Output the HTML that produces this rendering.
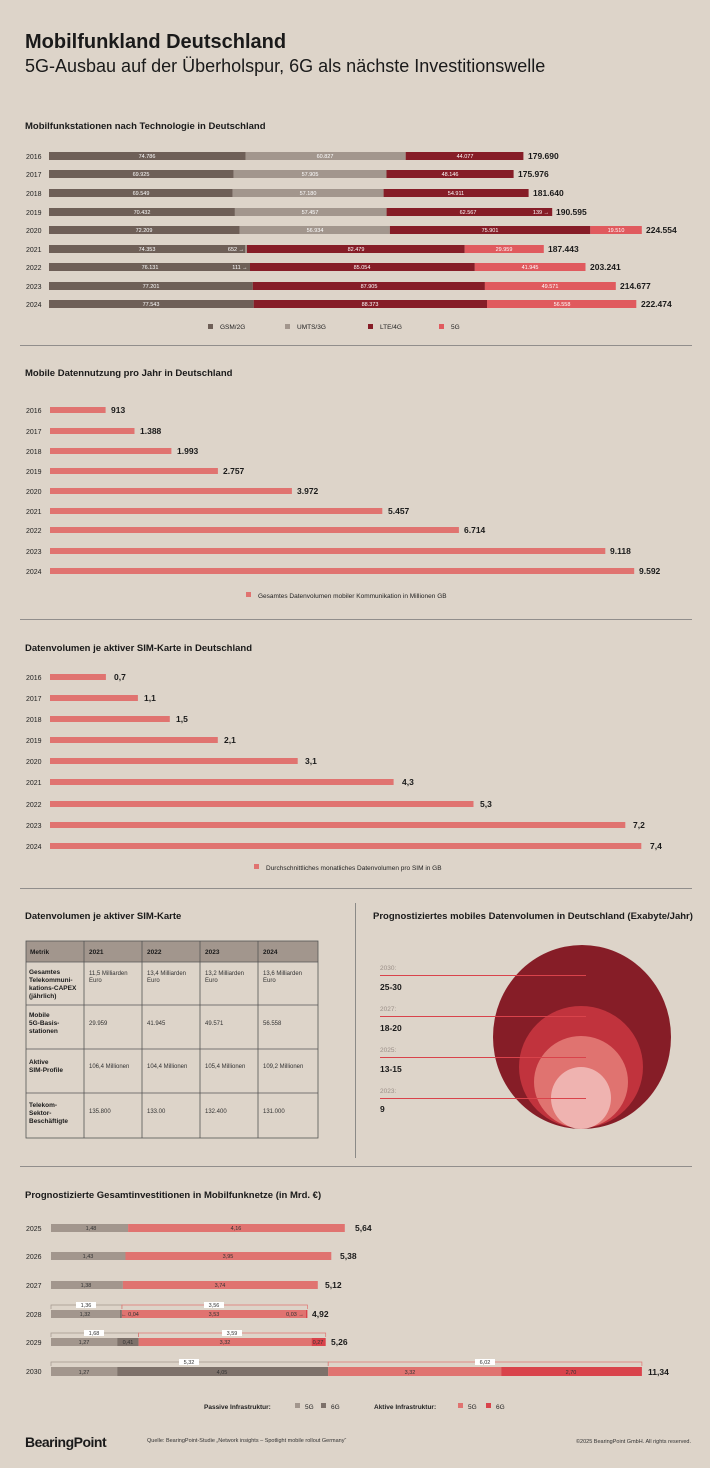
<!DOCTYPE html>
<html><head><meta charset="utf-8"><style>
html,body{margin:0;padding:0;background:#ddd4c9;}
svg{display:block;font-family:"Liberation Sans",sans-serif;}
.t{font-size:9.5px;font-weight:bold;fill:#1a1a1a}
.y{font-size:7px;fill:#222}
.w{font-size:5.5px;fill:#fff}
.d{font-size:5.5px;fill:#333}
.v{font-size:8.5px;font-weight:bold;fill:#1a1a1a}
.l{font-size:6.5px;fill:#222}
</style></head><body>
<svg width="710" height="1468" viewBox="0 0 710 1468">
<rect width="710" height="1468" fill="#ddd4c9"/>
<text x="25" y="48" font-size="20" font-weight="bold" fill="#1a1a1a">Mobilfunkland Deutschland</text>
<text x="25" y="72" font-size="18" fill="#1a1a1a">5G-Ausbau auf der Überholspur, 6G als nächste Investitionswelle</text>

<text x="25" y="129" class="t">Mobilfunkstationen nach Technologie in Deutschland</text>
<g>
<!-- rows -->
<g class="y"><text x="26" y="159">2016</text><text x="26" y="177">2017</text><text x="26" y="196">2018</text><text x="26" y="215">2019</text><text x="26" y="233">2020</text><text x="26" y="252">2021</text><text x="26" y="270">2022</text><text x="26" y="289">2023</text><text x="26" y="307">2024</text></g>
<g>
<rect x="49" y="152" width="196.7" height="8" fill="#6e5f57"/><rect x="245.7" y="152" width="160" height="8" fill="#a2968d"/><rect x="405.7" y="152" width="117.7" height="8" fill="#861d27"/>
<rect x="49" y="170" width="184.6" height="8" fill="#6e5f57"/><rect x="233.6" y="170" width="152.9" height="8" fill="#a2968d"/><rect x="386.5" y="170" width="127.1" height="8" fill="#861d27"/>
<rect x="49" y="189" width="183.6" height="8" fill="#6e5f57"/><rect x="232.6" y="189" width="151" height="8" fill="#a2968d"/><rect x="383.6" y="189" width="145" height="8" fill="#861d27"/>
<rect x="49" y="208" width="185.9" height="8" fill="#6e5f57"/><rect x="234.9" y="208" width="151.7" height="8" fill="#a2968d"/><rect x="386.6" y="208" width="165.6" height="8" fill="#861d27"/>
<rect x="49" y="226" width="190.6" height="8" fill="#6e5f57"/><rect x="239.6" y="226" width="150.3" height="8" fill="#a2968d"/><rect x="389.9" y="226" width="200.4" height="8" fill="#861d27"/><rect x="590.3" y="226" width="51.5" height="8" fill="#e05a5e"/>
<rect x="49" y="245" width="196.3" height="8" fill="#6e5f57"/><rect x="245.3" y="245" width="1.7" height="8" fill="#a2968d"/><rect x="247" y="245" width="217.7" height="8" fill="#861d27"/><rect x="464.7" y="245" width="79.1" height="8" fill="#e05a5e"/>
<rect x="49" y="263" width="201" height="8" fill="#6e5f57"/><rect x="250" y="263" width="224.8" height="8" fill="#861d27"/><rect x="474.8" y="263" width="110.7" height="8" fill="#e05a5e"/>
<rect x="49" y="282" width="203.8" height="8" fill="#6e5f57"/><rect x="252.8" y="282" width="232.1" height="8" fill="#861d27"/><rect x="484.9" y="282" width="130.9" height="8" fill="#e05a5e"/>
<rect x="49" y="300" width="204.7" height="8" fill="#6e5f57"/><rect x="253.7" y="300" width="233.3" height="8" fill="#861d27"/><rect x="487" y="300" width="149.3" height="8" fill="#e05a5e"/>
</g>
<g class="w" text-anchor="middle">
<text x="147" y="158">74.786</text><text x="325" y="158">60.827</text><text x="465" y="158">44.077</text>
<text x="141" y="176">69.925</text><text x="310" y="176">57.905</text><text x="450" y="176">48.146</text>
<text x="141" y="195">69.549</text><text x="308" y="195">57.180</text><text x="456" y="195">54.911</text>
<text x="142" y="214">70.432</text><text x="310" y="214">57.457</text><text x="468" y="214">62.567</text><text x="541" y="214">139 →</text>
<text x="144" y="232">72.209</text><text x="315" y="232">56.934</text><text x="490" y="232">75.901</text><text x="616" y="232">19.510</text>
<text x="147" y="251">74.353</text><text x="236" y="251">652 →</text><text x="356" y="251">82.479</text><text x="504" y="251">29.959</text>
<text x="150" y="269">76.131</text><text x="240" y="269">111 →</text><text x="362" y="269">85.054</text><text x="530" y="269">41.945</text>
<text x="151" y="288">77.201</text><text x="369" y="288">87.905</text><text x="550" y="288">49.571</text>
<text x="151" y="306">77.543</text><text x="370" y="306">88.373</text><text x="562" y="306">56.558</text>
</g>
<g class="v"><text x="528" y="159">179.690</text><text x="518" y="177">175.976</text><text x="533" y="196">181.640</text><text x="556" y="215">190.595</text><text x="646" y="233">224.554</text><text x="548" y="252">187.443</text><text x="590" y="270">203.241</text><text x="620" y="289">214.677</text><text x="641" y="307">222.474</text></g>
<g class="l"><rect x="208" y="324" width="5" height="5" fill="#6e5f57"/><text x="220" y="329">GSM/2G</text>
<rect x="285" y="324" width="5" height="5" fill="#a2968d"/><text x="297" y="329">UMTS/3G</text>
<rect x="368" y="324" width="5" height="5" fill="#861d27"/><text x="380" y="329">LTE/4G</text>
<rect x="439" y="324" width="5" height="5" fill="#e05a5e"/><text x="451" y="329">5G</text></g>
</g>
<line x1="20" y1="345.5" x2="692" y2="345.5" stroke="#777" stroke-width="0.8"/>

<text x="25" y="376" class="t">Mobile Datennutzung pro Jahr in Deutschland</text>
<g class="y"><text x="26" y="413">2016</text><text x="26" y="434">2017</text><text x="26" y="454">2018</text><text x="26" y="474">2019</text><text x="26" y="494">2020</text><text x="26" y="514">2021</text><text x="26" y="533">2022</text><text x="26" y="554">2023</text><text x="26" y="574">2024</text></g>
<g fill="#e07370">
<rect x="50" y="407" width="55.6" height="6"/><rect x="50" y="428" width="84.5" height="6"/><rect x="50" y="448" width="121.4" height="6"/><rect x="50" y="468" width="167.9" height="6"/><rect x="50" y="488" width="241.9" height="6"/><rect x="50" y="508" width="332.3" height="6"/><rect x="50" y="527" width="408.9" height="6"/><rect x="50" y="548" width="555.3" height="6"/><rect x="50" y="568" width="584.2" height="6"/></g>
<g class="v"><text x="111" y="413">913</text><text x="140" y="434">1.388</text><text x="177" y="454">1.993</text><text x="223" y="474">2.757</text><text x="297" y="494">3.972</text><text x="388" y="514">5.457</text><text x="464" y="533">6.714</text><text x="610" y="554">9.118</text><text x="639" y="574">9.592</text></g>
<rect x="246" y="592" width="5" height="5" fill="#e07370"/><text x="258" y="598" class="l">Gesamtes Datenvolumen mobiler Kommunikation in Millionen GB</text>
<line x1="20" y1="619.5" x2="692" y2="619.5" stroke="#777" stroke-width="0.8"/>

<text x="25" y="651" class="t">Datenvolumen je aktiver SIM-Karte in Deutschland</text>
<g class="y"><text x="26" y="680">2016</text><text x="26" y="701">2017</text><text x="26" y="722">2018</text><text x="26" y="743">2019</text><text x="26" y="764">2020</text><text x="26" y="785">2021</text><text x="26" y="807">2022</text><text x="26" y="828">2023</text><text x="26" y="849">2024</text></g>
<g fill="#e07370">
<rect x="50" y="674" width="55.9" height="6"/><rect x="50" y="695" width="87.9" height="6"/><rect x="50" y="716" width="119.8" height="6"/><rect x="50" y="737" width="167.8" height="6"/><rect x="50" y="758" width="247.7" height="6"/><rect x="50" y="779" width="343.6" height="6"/><rect x="50" y="801" width="423.5" height="6"/><rect x="50" y="822" width="575.3" height="6"/><rect x="50" y="843" width="591.3" height="6"/></g>
<g class="v"><text x="114" y="680">0,7</text><text x="144" y="701">1,1</text><text x="176" y="722">1,5</text><text x="224" y="743">2,1</text><text x="305" y="764">3,1</text><text x="402" y="785">4,3</text><text x="480" y="807">5,3</text><text x="633" y="828">7,2</text><text x="650" y="849">7,4</text></g>
<rect x="254" y="864" width="5" height="5" fill="#e07370"/><text x="266" y="870" class="l">Durchschnittliches monatliches Datenvolumen pro SIM in GB</text>
<line x1="20" y1="888.5" x2="692" y2="888.5" stroke="#777" stroke-width="0.8"/>

<text x="25" y="919" class="t">Datenvolumen je aktiver SIM-Karte</text>
<rect x="26" y="941" width="292" height="21" fill="#a2968d"/>
<g fill="none" stroke="#555" stroke-width="0.8">
<rect x="26" y="941" width="292" height="197"/>
<line x1="26" y1="962" x2="318" y2="962"/><line x1="26" y1="1005" x2="318" y2="1005"/><line x1="26" y1="1049" x2="318" y2="1049"/><line x1="26" y1="1093" x2="318" y2="1093"/>
<line x1="84" y1="941" x2="84" y2="1138"/><line x1="142" y1="941" x2="142" y2="1138"/><line x1="200" y1="941" x2="200" y2="1138"/><line x1="258" y1="941" x2="258" y2="1138"/></g>
<g font-size="6.5" font-weight="bold" fill="#1a1a1a"><text x="30" y="954">Metrik</text><text x="89" y="954">2021</text><text x="147" y="954">2022</text><text x="205" y="954">2023</text><text x="263" y="954">2024</text>
<text x="29" y="974">Gesamtes</text><text x="29" y="982">Telekommuni-</text><text x="29" y="990">kations-CAPEX</text><text x="29" y="998">(jährlich)</text>
<text x="29" y="1017">Mobile</text><text x="29" y="1025">5G-Basis-</text><text x="29" y="1033">stationen</text>
<text x="29" y="1064">Aktive</text><text x="29" y="1072">SIM-Profile</text>
<text x="29" y="1107">Telekom-</text><text x="29" y="1115">Sektor-</text><text x="29" y="1123">Beschäftigte</text></g>
<g font-size="6" fill="#333"><text x="89" y="975">11,5 Milliarden</text><text x="89" y="982">Euro</text><text x="147" y="975">13,4 Milliarden</text><text x="147" y="982">Euro</text><text x="205" y="975">13,2 Milliarden</text><text x="205" y="982">Euro</text><text x="263" y="975">13,6 Milliarden</text><text x="263" y="982">Euro</text>
<text x="89" y="1025">29.959</text><text x="147" y="1025">41.945</text><text x="205" y="1025">49.571</text><text x="263" y="1025">56.558</text>
<text x="89" y="1068">106,4 Millionen</text><text x="147" y="1068">104,4 Millionen</text><text x="205" y="1068">105,4 Millionen</text><text x="263" y="1068">109,2 Millionen</text>
<text x="89" y="1113">135.800</text><text x="147" y="1113">133.00</text><text x="205" y="1113">132.400</text><text x="263" y="1113">131.000</text></g>
<line x1="355.5" y1="903" x2="355.5" y2="1158" stroke="#777" stroke-width="0.8"/>

<text x="373" y="919" class="t">Prognostiziertes mobiles Datenvolumen in Deutschland (Exabyte/Jahr)</text>
<ellipse cx="582" cy="1037" rx="89" ry="92" fill="#861d27"/>
<ellipse cx="581" cy="1067" rx="62" ry="61" fill="#c1333d"/>
<ellipse cx="581" cy="1082" rx="47" ry="46" fill="#e07370"/>
<ellipse cx="581" cy="1098" rx="30" ry="31" fill="#efb3b0"/>
<g stroke="#d9434b" stroke-width="0.9"><line x1="380" y1="975.5" x2="586" y2="975.5"/><line x1="380" y1="1016.5" x2="586" y2="1016.5"/><line x1="380" y1="1057.5" x2="586" y2="1057.5"/><line x1="380" y1="1098.5" x2="586" y2="1098.5"/></g>
<g font-size="6.5" fill="#9a8f88"><text x="380" y="970">2030:</text><text x="380" y="1011">2027:</text><text x="380" y="1052">2025:</text><text x="380" y="1093">2023:</text></g>
<g class="v" font-size="8"><text x="380" y="990">25-30</text><text x="380" y="1031">18-20</text><text x="380" y="1072">13-15</text><text x="380" y="1112">9</text></g>
<line x1="20" y1="1166.5" x2="692" y2="1166.5" stroke="#777" stroke-width="0.8"/>

<text x="25" y="1198" class="t">Prognostizierte Gesamtinvestitionen in Mobilfunknetze (in Mrd. €)</text>
<g class="y"><text x="26" y="1231">2025</text><text x="26" y="1259">2026</text><text x="26" y="1288">2027</text><text x="26" y="1317">2028</text><text x="26" y="1345">2029</text><text x="26" y="1374">2030</text></g>
<rect x="51" y="1224" width="77.1" height="8" fill="#a2968d"/><rect x="128.1" y="1224" width="216.7" height="8" fill="#e07370"/>
<rect x="51" y="1252" width="74.5" height="8" fill="#a2968d"/><rect x="125.5" y="1252" width="205.8" height="8" fill="#e07370"/>
<rect x="51" y="1281" width="71.9" height="8" fill="#a2968d"/><rect x="122.9" y="1281" width="194.9" height="8" fill="#e07370"/>
<rect x="51" y="1310" width="68.8" height="8" fill="#a2968d"/><rect x="119.8" y="1310" width="2.1" height="8" fill="#7d716a"/><rect x="121.9" y="1310" width="183.9" height="8" fill="#e07370"/><rect x="305.8" y="1310" width="1.6" height="8" fill="#d9434b"/>
<rect x="51" y="1338" width="66.2" height="8" fill="#a2968d"/><rect x="117.2" y="1338" width="21.4" height="8" fill="#7d716a"/><rect x="138.6" y="1338" width="173" height="8" fill="#e07370"/><rect x="311.6" y="1338" width="14.1" height="8" fill="#d9434b"/>
<rect x="51" y="1367" width="66.2" height="9" fill="#a2968d"/><rect x="117.2" y="1367" width="211" height="9" fill="#7d716a"/><rect x="328.2" y="1367" width="173" height="9" fill="#e07370"/><rect x="501.2" y="1367" width="140.7" height="9" fill="#d9434b"/>
<g fill="none" stroke-width="0.7">
<path d="M51 1309V1305H121.9V1309" stroke="#a2968d"/><path d="M121.9 1309V1305H307.4V1309" stroke="#e07370"/>
<path d="M51 1337V1333H138.6V1337" stroke="#a2968d"/><path d="M138.6 1337V1333H325.7V1337" stroke="#e07370"/>
<path d="M51 1366V1362H328.2V1366" stroke="#a2968d"/><path d="M328.2 1366V1362H641.9V1366" stroke="#e07370"/></g>
<g fill="#fff"><rect x="76" y="1302" width="20" height="6"/><rect x="204" y="1302" width="20" height="6"/><rect x="84" y="1330" width="20" height="6"/><rect x="222" y="1330" width="20" height="6"/><rect x="179" y="1359" width="20" height="6"/><rect x="475" y="1359" width="20" height="6"/></g>
<g class="d" text-anchor="middle">
<text x="86" y="1307">1,36</text><text x="214" y="1307">3,56</text><text x="94" y="1335">1,68</text><text x="232" y="1335">3,59</text><text x="189" y="1364">5,32</text><text x="485" y="1364">6,02</text>
<text x="91" y="1230">1,48</text><text x="236" y="1230">4,16</text>
<text x="88" y="1258">1,43</text><text x="228" y="1258">3,95</text>
<text x="86" y="1287">1,38</text><text x="220" y="1287">3,74</text>
<text x="85" y="1316">1,32</text><text x="130" y="1316">← 0,04</text><text x="214" y="1316">3,53</text><text x="295" y="1316">0,03 →</text>
<text x="84" y="1344">1,27</text><text x="128" y="1344">0,41</text><text x="225" y="1344">3,32</text><text x="318" y="1344">0,27</text>
<text x="84" y="1374">1,27</text><text x="222" y="1374">4,05</text><text x="410" y="1374">3,32</text><text x="571" y="1374">2,70</text></g>
<g class="v"><text x="355" y="1231">5,64</text><text x="340" y="1259">5,38</text><text x="325" y="1288">5,12</text><text x="312" y="1317">4,92</text><text x="331" y="1345">5,26</text><text x="648" y="1375">11,34</text></g>
<g class="l"><text x="204" y="1409" font-weight="bold">Passive Infrastruktur:</text><rect x="295" y="1403" width="5" height="5" fill="#a2968d"/><text x="305" y="1409">5G</text><rect x="321" y="1403" width="5" height="5" fill="#7d716a"/><text x="331" y="1409">6G</text>
<text x="374" y="1409" font-weight="bold">Aktive Infrastruktur:</text><rect x="458" y="1403" width="5" height="5" fill="#e07370"/><text x="468" y="1409">5G</text><rect x="486" y="1403" width="5" height="5" fill="#d9434b"/><text x="496" y="1409">6G</text></g>
<text x="25" y="1447" font-size="14" font-weight="bold" fill="#1a1a1a" letter-spacing="-0.5">BearingPoint</text>
<text x="147" y="1442" font-size="5.5" fill="#333">Quelle: BearingPoint-Studie „Network insights – Spotlight mobile rollout Germany“</text>
<text x="691" y="1443" font-size="5.5" fill="#333" text-anchor="end">©2025 BearingPoint GmbH. All rights reserved.</text>
</svg>
</body></html>
